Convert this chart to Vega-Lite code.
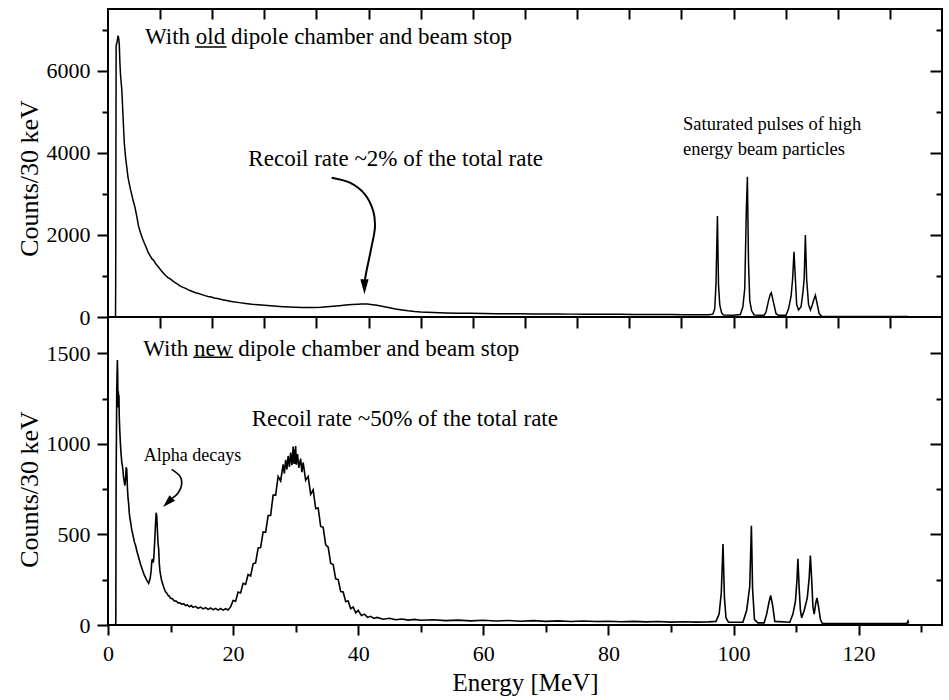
{
  "$schema": "https://vega.github.io/schema/vega-lite/v6.json",
  "padding": {"left": 15, "top": 7, "right": 5, "bottom": 0},
  "autosize": {"type": "pad"},
  "spacing": 0,
  "bounds": "flush",
  "config": {
    "font": "Liberation Serif",
    "view": {"stroke": "black", "strokeWidth": 2},
    "axis": {
      "grid": false, "domain": false, "tickColor": "black", "tickWidth": 2,
      "labelColor": "black", "titleColor": "black",
      "labelFont": "Liberation Serif", "titleFont": "Liberation Serif",
      "labelFontSize": 22, "titleFontSize": 26, "titleFontWeight": "normal",
      "labelFlush": false, "labelOverlap": false, "format": "d"
    }
  },
  "datasets": {
    "old": [
      {"E":0,"c":0},{"E":1.2,"c":0},{"E":1.23,"c":800},{"E":1.3,"c":6600},{"E":1.45,"c":6700},{"E":1.6,"c":6850},{"E":1.7,"c":6800},{"E":1.8,"c":6650},{"E":1.9,"c":6200},{"E":2.0,"c":5900},{"E":2.2,"c":5550},{"E":2.4,"c":4900},{"E":2.6,"c":4250},{"E":2.8,"c":3900},{"E":3.0,"c":3650},{"E":3.2,"c":3400},{"E":3.4,"c":3250},{"E":3.6,"c":3100},{"E":3.8,"c":2980},{"E":4.0,"c":2850},{"E":4.3,"c":2680},{"E":4.6,"c":2450},{"E":4.9,"c":2200},{"E":5.2,"c":2050},{"E":5.5,"c":1920},{"E":5.8,"c":1800},{"E":6.1,"c":1700},{"E":6.4,"c":1580},{"E":6.7,"c":1500},{"E":7.0,"c":1420},{"E":7.3,"c":1380},{"E":7.6,"c":1300},{"E":8.0,"c":1230},{"E":8.4,"c":1150},{"E":8.8,"c":1080},{"E":9.2,"c":1010},{"E":9.6,"c":960},{"E":10,"c":920},{"E":10.5,"c":860},{"E":11,"c":810},{"E":11.5,"c":760},{"E":12,"c":720},{"E":12.5,"c":690},{"E":13,"c":650},{"E":13.5,"c":620},{"E":14,"c":590},{"E":14.5,"c":570},{"E":15,"c":545},{"E":15.5,"c":520},{"E":16,"c":500},{"E":16.5,"c":485},{"E":17,"c":465},{"E":17.5,"c":450},{"E":18,"c":430},{"E":18.5,"c":415},{"E":19,"c":400},{"E":19.5,"c":385},{"E":20,"c":370},{"E":21,"c":350},{"E":22,"c":330},{"E":23,"c":312},{"E":24,"c":298},{"E":25,"c":285},{"E":26,"c":272},{"E":27,"c":262},{"E":28,"c":252},{"E":29,"c":244},{"E":30,"c":238},{"E":31,"c":234},{"E":32,"c":232},{"E":33,"c":234},{"E":34,"c":240},{"E":35,"c":250},{"E":36,"c":262},{"E":37,"c":276},{"E":38,"c":290},{"E":39,"c":302},{"E":40,"c":312},{"E":40.5,"c":318},{"E":41,"c":316},{"E":41.5,"c":314},{"E":42,"c":305},{"E":43,"c":288},{"E":44,"c":258},{"E":45,"c":226},{"E":46,"c":196},{"E":47,"c":172},{"E":48,"c":150},{"E":49,"c":134},{"E":50,"c":122},{"E":51,"c":115},{"E":52,"c":108},{"E":54,"c":100},{"E":56,"c":94},{"E":58,"c":90},{"E":60,"c":86},{"E":62,"c":82},{"E":64,"c":80},{"E":66,"c":78},{"E":68,"c":76},{"E":70,"c":74},{"E":72,"c":72},{"E":74,"c":70},{"E":76,"c":68},{"E":78,"c":67},{"E":80,"c":66},{"E":82,"c":64},{"E":84,"c":62},{"E":86,"c":60},{"E":88,"c":60},{"E":90,"c":58},{"E":92,"c":57},{"E":94,"c":56},{"E":96,"c":55},
      {"E":96.7,"c":70},{"E":97.0,"c":200},{"E":97.2,"c":800},{"E":97.43,"c":2459},{"E":97.6,"c":800},{"E":97.8,"c":300},{"E":98.1,"c":100},{"E":98.4,"c":50},{"E":100,"c":45},{"E":101.1,"c":60},{"E":101.5,"c":250},{"E":101.8,"c":700},{"E":102.05,"c":2590},{"E":102.22,"c":3416},{"E":102.4,"c":1320},{"E":102.6,"c":400},{"E":102.9,"c":150},{"E":103.3,"c":50},{"E":104.9,"c":45},{"E":105.2,"c":120},{"E":105.6,"c":400},{"E":105.9,"c":560},{"E":106.05,"c":592},{"E":106.4,"c":350},{"E":106.8,"c":80},{"E":107.2,"c":40},{"E":108.4,"c":40},{"E":108.8,"c":200},{"E":109.2,"c":500},{"E":109.45,"c":925},{"E":109.67,"c":1590},{"E":109.9,"c":900},{"E":110.1,"c":300},{"E":110.4,"c":170},{"E":110.8,"c":250},{"E":111.1,"c":600},{"E":111.3,"c":940},{"E":111.49,"c":1997},{"E":111.7,"c":900},{"E":112.0,"c":300},{"E":112.3,"c":170},{"E":112.6,"c":300},{"E":112.9,"c":450},{"E":113.09,"c":528},{"E":113.4,"c":300},{"E":113.7,"c":80},{"E":114.1,"c":15},{"E":116,"c":12},{"E":120,"c":12},{"E":124,"c":11},{"E":127.9,"c":12}
    ],
    "new": [
      {"E":0,"c":0},{"E":1.2,"c":0},{"E":1.25,"c":20},{"E":1.3,"c":800},{"E":1.4,"c":1300},{"E":1.5,"c":1463},{"E":1.55,"c":1380},{"E":1.6,"c":1200},{"E":1.65,"c":1290},{"E":1.7,"c":1240},{"E":1.75,"c":1270},{"E":1.8,"c":1150},{"E":1.9,"c":1060},{"E":2.0,"c":990},{"E":2.1,"c":940},{"E":2.2,"c":900},{"E":2.3,"c":880},{"E":2.4,"c":850},{"E":2.5,"c":810},{"E":2.6,"c":790},{"E":2.7,"c":770},{"E":2.8,"c":800},{"E":2.9,"c":870},{"E":3.0,"c":860},{"E":3.1,"c":760},{"E":3.2,"c":700},{"E":3.3,"c":670},{"E":3.4,"c":620},{"E":3.5,"c":590},{"E":3.65,"c":560},{"E":3.8,"c":525},{"E":4.0,"c":495},{"E":4.2,"c":460},{"E":4.4,"c":440},{"E":4.6,"c":410},{"E":4.8,"c":385},{"E":5.0,"c":360},{"E":5.2,"c":335},{"E":5.4,"c":315},{"E":5.6,"c":295},{"E":5.8,"c":275},{"E":6.0,"c":262},{"E":6.2,"c":248},{"E":6.4,"c":236},{"E":6.5,"c":230},{"E":6.6,"c":240},{"E":6.75,"c":260},{"E":6.9,"c":300},{"E":7.0,"c":350},{"E":7.1,"c":365},{"E":7.2,"c":345},{"E":7.3,"c":360},{"E":7.45,"c":450},{"E":7.6,"c":560},{"E":7.7,"c":620},{"E":7.8,"c":600},{"E":7.9,"c":520},{"E":8.0,"c":450},{"E":8.1,"c":420},{"E":8.2,"c":340},{"E":8.3,"c":300},{"E":8.4,"c":278},{"E":8.55,"c":250},{"E":8.7,"c":232},{"E":8.85,"c":215},
      {"E":9.0,"c":200},{"E":9.2,"c":183},{"E":9.4,"c":176},{"E":9.6,"c":163},{"E":9.8,"c":159},{"E":10.0,"c":147},{"E":10.3,"c":145},{"E":10.6,"c":133},{"E":10.9,"c":132},{"E":11.2,"c":122},{"E":11.5,"c":123},{"E":11.8,"c":114},{"E":12.1,"c":118},{"E":12.4,"c":107},{"E":12.7,"c":111},{"E":13.0,"c":101},{"E":13.3,"c":107},{"E":13.6,"c":97},{"E":14.0,"c":103},{"E":14.4,"c":92},{"E":14.8,"c":99},{"E":15.2,"c":89},{"E":15.6,"c":96},{"E":16.0,"c":86},{"E":16.4,"c":94},{"E":16.8,"c":84},{"E":17.2,"c":92},{"E":17.6,"c":82},{"E":18.0,"c":91},{"E":18.4,"c":82},{"E":18.8,"c":90},{"E":19.2,"c":83},{"E":19.6,"c":100},
      {"E":20.0,"c":135},{"E":20.4,"c":131},{"E":20.8,"c":182},{"E":21.2,"c":177},{"E":21.6,"c":230},{"E":22.0,"c":224},{"E":22.4,"c":279},{"E":22.8,"c":271},{"E":23.2,"c":338},{"E":23.6,"c":343},{"E":24.0,"c":425},{"E":24.4,"c":427},{"E":24.8,"c":514},{"E":25.2,"c":512},{"E":25.6,"c":604},{"E":26.0,"c":605},{"E":26.4,"c":717},{"E":26.8,"c":717},{"E":27.2,"c":820},{"E":27.6,"c":795},{"E":28.0,"c":886},{"E":28.2,"c":836},{"E":28.4,"c":912},{"E":28.6,"c":858},{"E":28.8,"c":933},{"E":29.0,"c":872},{"E":29.2,"c":952},{"E":29.4,"c":882},{"E":29.6,"c":985},{"E":29.7,"c":890},{"E":29.8,"c":970},{"E":29.9,"c":889},{"E":30.0,"c":988},{"E":30.1,"c":885},{"E":30.3,"c":943},{"E":30.5,"c":867},{"E":30.8,"c":918},{"E":31.0,"c":843},{"E":31.2,"c":897},{"E":31.6,"c":799},{"E":32.0,"c":820},{"E":32.4,"c":721},{"E":32.8,"c":746},{"E":33.2,"c":643},{"E":33.6,"c":646},{"E":34.0,"c":544},{"E":34.4,"c":539},{"E":34.8,"c":443},{"E":35.2,"c":430},{"E":35.6,"c":341},{"E":36.0,"c":333},{"E":36.4,"c":255},{"E":36.8,"c":251},{"E":37.2,"c":185},{"E":37.6,"c":182},{"E":38.0,"c":129},{"E":38.4,"c":133},{"E":38.8,"c":90},{"E":39.2,"c":100},{"E":39.6,"c":67},{"E":40.0,"c":81},{"E":40.5,"c":53},{"E":41.0,"c":60},{"E":41.5,"c":42},{"E":42.0,"c":48},{"E":42.5,"c":36},{"E":43.0,"c":42},{"E":44,"c":32},{"E":45,"c":37},{"E":46,"c":29},{"E":47,"c":33},{"E":48,"c":27},{"E":49,"c":31},{"E":50,"c":26},{"E":52,"c":29},{"E":54,"c":24},{"E":56,"c":27},{"E":58,"c":23},{"E":60,"c":26},{"E":62,"c":22},{"E":64,"c":25},{"E":66,"c":21},{"E":68,"c":24},{"E":70,"c":20},{"E":72,"c":23},{"E":74,"c":19},{"E":76,"c":22},{"E":78,"c":19},{"E":80,"c":21},{"E":82,"c":18},{"E":84,"c":20},{"E":86,"c":17},{"E":88,"c":19},{"E":90,"c":16},{"E":92,"c":18},{"E":94,"c":16},{"E":96,"c":17},
      {"E":97.2,"c":20},{"E":97.7,"c":60},{"E":98.05,"c":178},{"E":98.32,"c":447},{"E":98.55,"c":150},{"E":98.8,"c":40},{"E":99.2,"c":15},{"E":101.5,"c":15},{"E":102.1,"c":80},{"E":102.6,"c":214},{"E":102.86,"c":548},{"E":103.05,"c":200},{"E":103.35,"c":30},{"E":103.9,"c":12},{"E":104.9,"c":12},{"E":105.3,"c":60},{"E":105.7,"c":130},{"E":105.94,"c":163},{"E":106.25,"c":110},{"E":106.6,"c":20},{"E":109.0,"c":15},{"E":109.5,"c":60},{"E":109.9,"c":130},{"E":110.15,"c":250},{"E":110.3,"c":366},{"E":110.5,"c":200},{"E":110.7,"c":80},{"E":110.9,"c":40},{"E":111.3,"c":80},{"E":111.8,"c":150},{"E":112.1,"c":260},{"E":112.29,"c":384},{"E":112.5,"c":250},{"E":112.7,"c":100},{"E":112.9,"c":60},{"E":113.15,"c":120},{"E":113.34,"c":150},{"E":113.6,"c":100},{"E":113.9,"c":30},{"E":114.2,"c":8},{"E":120,"c":8},{"E":127.7,"c":8},{"E":127.9,"c":22},{"E":128.0,"c":8}
    ],
    "arrow_old": [
      {"i":0,"E":35.75,"c":3392},{"i":1,"E":38.67,"c":3270},{"i":2,"E":41.07,"c":2987},{"i":3,"E":42.4,"c":2581},{"i":4,"E":42.67,"c":2174},{"i":5,"E":42.1,"c":1687},{"i":6,"E":41.33,"c":1120},{"i":7,"E":41.05,"c":880}
    ],
    "arrow_new": [
      {"i":0,"E":10.18,"c":859},{"i":1,"E":11.5,"c":822},{"i":2,"E":11.78,"c":776},{"i":3,"E":11.23,"c":730},{"i":4,"E":10.3,"c":700}
    ]
  },
  "vconcat": [
    {
      "width": 834, "height": 308,
      "resolve": {"axis": {"x": "independent", "y": "independent"}},
      "layer": [
        {
          "data": {"name": "old"},
          "mark": {"type": "line", "color": "black", "strokeWidth": 1.5},
          "encoding": {
            "x": {"field": "E", "type": "quantitative", "scale": {"domain": [0, 133.3333], "nice": false, "zero": false},
                  "axis": {"orient": "top", "values": [8.3333,16.6667,25,33.3333,41.6667,50,58.3333,66.6667,75,83.3333,91.6667,100,108.3333,116.6667,125], "tickSize": -10, "labels": false, "title": null}},
            "y": {"field": "c", "type": "quantitative", "scale": {"domain": [0, 7500], "nice": false},
                  "axis": {"orient": "left", "values": [0,2000,4000,6000], "tickSize": 11, "labelPadding": 7, "title": "Counts/30 keV", "titlePadding": 4, "titleY": 169}}
          }
        },
        {
          "data": {"values": [{}]},
          "mark": {"type": "rule", "opacity": 0},
          "encoding": {"y": {"datum": 0, "type": "quantitative", "axis": {"orient": "left", "values": [1000,3000,5000,7000], "tickSize": 6, "labels": false, "title": null}}}
        },
        {
          "data": {"values": [{}]},
          "mark": {"type": "rule", "opacity": 0},
          "encoding": {"y": {"datum": 0, "type": "quantitative", "axis": {"orient": "right", "values": [2000,4000,6000], "tickSize": -12, "labels": false, "title": null}}}
        },
        {
          "data": {"values": [{}]},
          "mark": {"type": "rule", "opacity": 0},
          "encoding": {"y": {"datum": 0, "type": "quantitative", "axis": {"orient": "right", "values": [1000,3000,5000,7000], "tickSize": -6, "labels": false, "title": null}}}
        },
        {
          "data": {"values": [{}]},
          "mark": {"type": "text", "text": "With old dipole chamber and beam stop", "align": "left", "baseline": "alphabetic", "fontSize": 23, "font": "Liberation Serif", "color": "black"},
          "encoding": {"x": {"datum": 5.91, "type": "quantitative", "axis": null}, "y": {"datum": 6640, "type": "quantitative", "axis": null}}
        },
        {
          "data": {"values": [{}]},
          "mark": {"type": "rule", "color": "black", "strokeWidth": 1.5},
          "encoding": {"x": {"datum": 13.9, "type": "quantitative", "axis": null}, "x2": {"datum": 18.97}, "y": {"datum": 6574, "type": "quantitative", "axis": null}}
        },
        {
          "data": {"values": [{}]},
          "mark": {"type": "text", "text": "Recoil rate ~2% of the total rate", "align": "center", "baseline": "alphabetic", "fontSize": 23, "font": "Liberation Serif", "color": "black"},
          "encoding": {"x": {"datum": 46.0, "type": "quantitative", "axis": null}, "y": {"datum": 3677, "type": "quantitative", "axis": null}}
        },
        {
          "data": {"values": [{}]},
          "mark": {"type": "text", "text": ["Saturated pulses of high", "energy beam particles"], "align": "left", "baseline": "alphabetic", "fontSize": 18.5, "lineHeight": 24.7, "font": "Liberation Serif", "color": "black"},
          "encoding": {"x": {"datum": 91.93, "type": "quantitative", "axis": null}, "y": {"datum": 4546, "type": "quantitative", "axis": null}}
        },
        {
          "data": {"name": "arrow_old"},
          "mark": {"type": "line", "interpolate": "cardinal", "color": "black", "strokeWidth": 2},
          "encoding": {"x": {"field": "E", "type": "quantitative", "axis": null}, "y": {"field": "c", "type": "quantitative", "axis": null}, "order": {"field": "i", "type": "quantitative"}}
        },
        {
          "data": {"values": [{}]},
          "mark": {"type": "point", "shape": "M-0.55,-1L0.55,-1L0,1Z", "size": 225, "filled": true, "color": "black", "opacity": 1},
          "encoding": {"x": {"datum": 41.0, "type": "quantitative", "axis": null}, "y": {"datum": 735, "type": "quantitative", "axis": null}}
        }
      ]
    },
    {
      "width": 834, "height": 308,
      "resolve": {"axis": {"x": "independent", "y": "independent"}},
      "layer": [
        {
          "data": {"name": "new"},
          "mark": {"type": "line", "color": "black", "strokeWidth": 1.6},
          "encoding": {
            "x": {"field": "E", "type": "quantitative", "scale": {"domain": [0, 133.3333], "nice": false, "zero": false},
                  "axis": {"orient": "bottom", "values": [0,20,40,60,80,100,120], "tickSize": 10, "labelPadding": 8, "title": "Energy [MeV]", "titleFontSize": 25, "titlePadding": 6}},
            "y": {"field": "c", "type": "quantitative", "scale": {"domain": [0, 1700], "nice": false},
                  "axis": {"orient": "left", "values": [0,500,1000,1500], "tickSize": 11, "labelPadding": 7, "title": "Counts/30 keV", "titlePadding": 4, "titleY": 172}}
          }
        },
        {
          "data": {"values": [{}]},
          "mark": {"type": "rule", "opacity": 0},
          "encoding": {
            "x": {"datum": 0, "type": "quantitative", "axis": {"orient": "bottom", "values": [10,30,50,70,90,110,130], "tickSize": 7, "labels": false, "title": null}},
            "y": {"datum": 0, "type": "quantitative", "axis": {"orient": "left", "values": [250,750,1250], "tickSize": 6, "labels": false, "title": null}}
          }
        },
        {
          "data": {"values": [{}]},
          "mark": {"type": "rule", "opacity": 0},
          "encoding": {
            "x": {"datum": 0, "type": "quantitative", "axis": {"orient": "top", "values": [8.3333,16.6667,25,33.3333,41.6667,50,58.3333,66.6667,75,83.3333,91.6667,100,108.3333,116.6667,125], "tickSize": -11, "labels": false, "title": null}},
            "y": {"datum": 0, "type": "quantitative", "axis": {"orient": "right", "values": [500,1000,1500], "tickSize": -12, "labels": false, "title": null}}
          }
        },
        {
          "data": {"values": [{}]},
          "mark": {"type": "rule", "opacity": 0},
          "encoding": {"y": {"datum": 0, "type": "quantitative", "axis": {"orient": "right", "values": [250,750,1250], "tickSize": -6, "labels": false, "title": null}}}
        },
        {
          "data": {"values": [{}]},
          "mark": {"type": "text", "text": "With new dipole chamber and beam stop", "align": "left", "baseline": "alphabetic", "fontSize": 23, "font": "Liberation Serif", "color": "black"},
          "encoding": {"x": {"datum": 5.64, "type": "quantitative", "axis": null}, "y": {"datum": 1486, "type": "quantitative", "axis": null}}
        },
        {
          "data": {"values": [{}]},
          "mark": {"type": "rule", "color": "black", "strokeWidth": 1.5},
          "encoding": {"x": {"datum": 13.63, "type": "quantitative", "axis": null}, "x2": {"datum": 20.02}, "y": {"datum": 1478, "type": "quantitative", "axis": null}}
        },
        {
          "data": {"values": [{}]},
          "mark": {"type": "text", "text": "Recoil rate ~50% of the total rate", "align": "center", "baseline": "alphabetic", "fontSize": 23, "font": "Liberation Serif", "color": "black"},
          "encoding": {"x": {"datum": 47.46, "type": "quantitative", "axis": null}, "y": {"datum": 1098, "type": "quantitative", "axis": null}}
        },
        {
          "data": {"values": [{}]},
          "mark": {"type": "text", "text": "Alpha decays", "align": "center", "baseline": "alphabetic", "fontSize": 18, "font": "Liberation Serif", "color": "black"},
          "encoding": {"x": {"datum": 13.5, "type": "quantitative", "axis": null}, "y": {"datum": 904, "type": "quantitative", "axis": null}}
        },
        {
          "data": {"name": "arrow_new"},
          "mark": {"type": "line", "interpolate": "cardinal", "color": "black", "strokeWidth": 1.6},
          "encoding": {"x": {"field": "E", "type": "quantitative", "axis": null}, "y": {"field": "c", "type": "quantitative", "axis": null}, "order": {"field": "i", "type": "quantitative"}}
        },
        {
          "data": {"values": [{}]},
          "mark": {"type": "point", "shape": "M-0.6,-1L0.6,-1L0,1Z", "size": 169, "angle": 45, "filled": true, "color": "black", "opacity": 1},
          "encoding": {"x": {"datum": 9.54, "type": "quantitative", "axis": null}, "y": {"datum": 676, "type": "quantitative", "axis": null}}
        }
      ]
    }
  ]
}
